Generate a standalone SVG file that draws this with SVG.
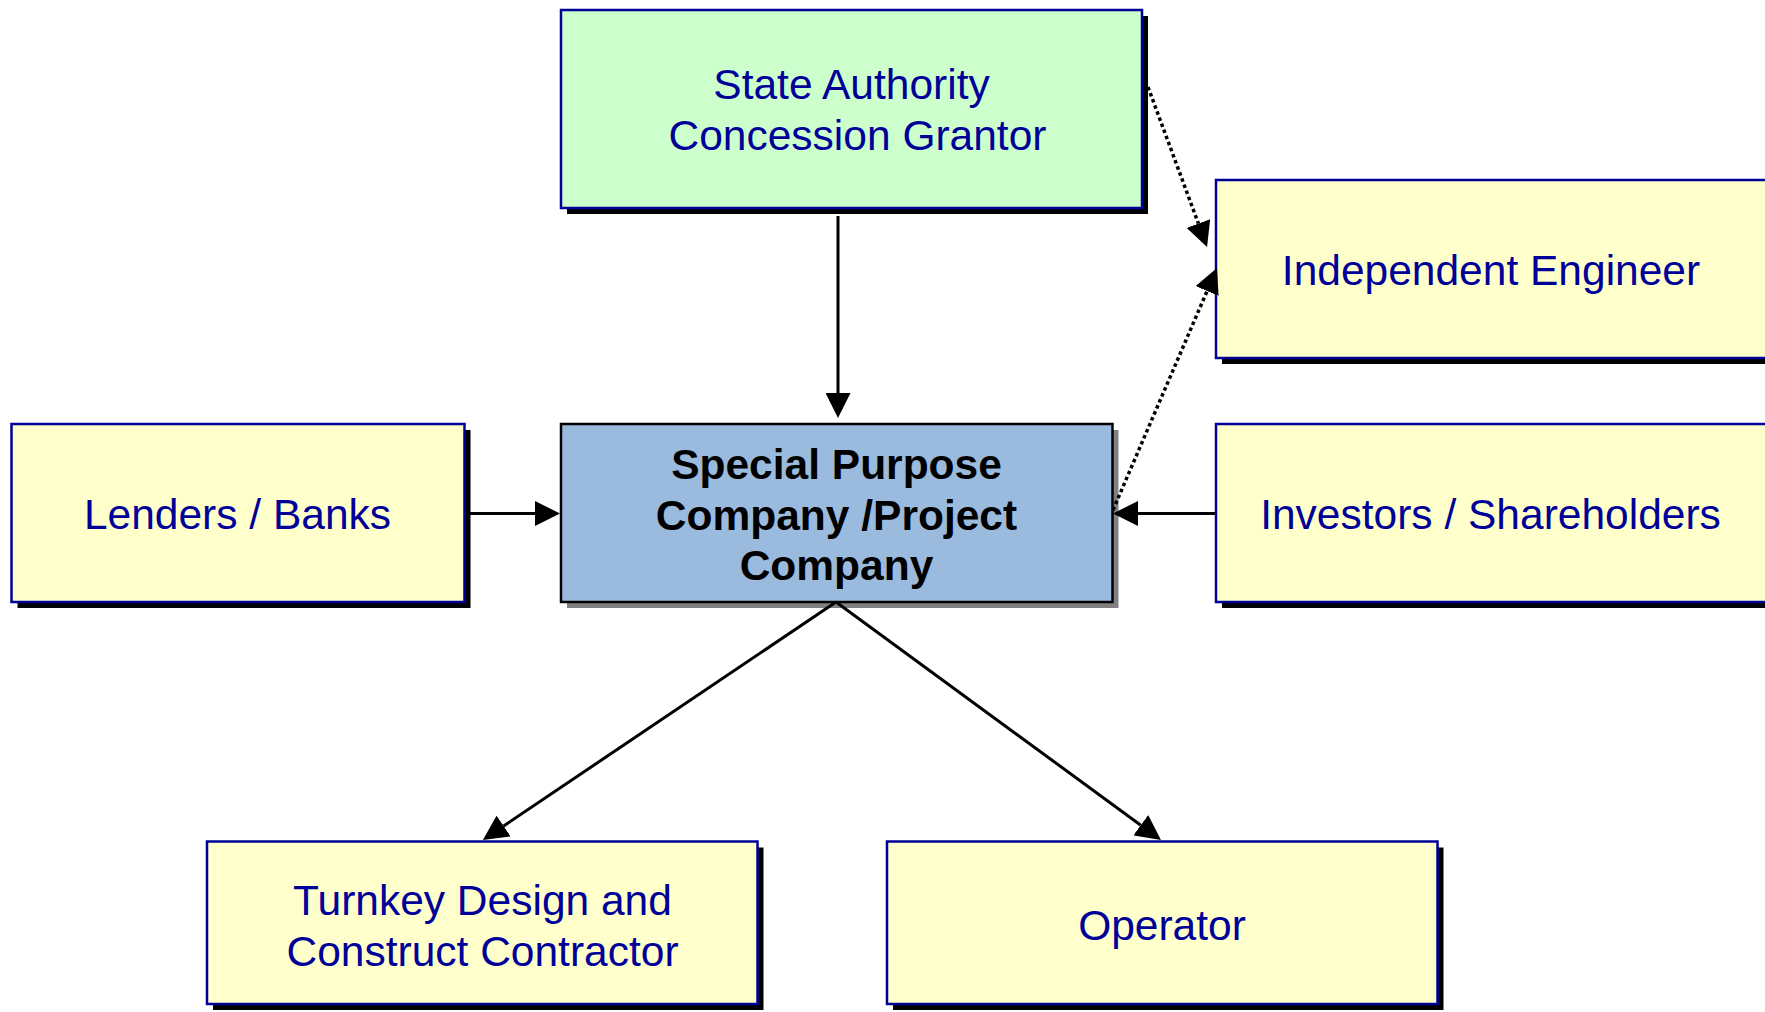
<svg xmlns="http://www.w3.org/2000/svg" width="1765" height="1012" viewBox="0 0 1765 1012">
  <style>
    .box { stroke: #000099; stroke-width: 2.5; }
    .party { fill: #FFFFCC; }
    .grantor { fill: #CCFFCC; }
    .spc { fill: #9BBBDE; stroke: #000000; stroke-width: 2.5; }
    .shadow { fill: #000000; }
    .shadow-grey { fill: #808080; }
    .label { font-family: "Liberation Sans", Arial, sans-serif; font-size: 42.5px; fill: #000099; text-anchor: middle; }
    .label-bold { font-family: "Liberation Sans", Arial, sans-serif; font-size: 42.5px; font-weight: bold; fill: #000000; text-anchor: middle; }
    .link { fill: none; stroke: #000000; stroke-width: 3; }
    .dotted { stroke-width: 3.5; stroke-dasharray: 3.5 3; }
  </style>
  <defs>
    <marker id="arrow" markerUnits="userSpaceOnUse" markerWidth="25" markerHeight="25" refX="0" refY="12.5" orient="auto">
      <path d="M0,0 L25,12.5 L0,25 Z" fill="#000000"/>
    </marker>
  </defs>

  <rect width="1765" height="1012" fill="#FFFFFF"/>

  <g id="state-authority">
    <rect class="shadow" x="567" y="16" width="581" height="198"/>
    <rect class="box grantor" x="561" y="10" width="581" height="198"/>
    <text class="label" x="851.5" y="99">State Authority</text>
    <text class="label" x="857.5" y="149.5">Concession Grantor</text>
  </g>

  <g id="independent-engineer">
    <rect class="shadow" x="1222" y="186" width="552" height="178"/>
    <rect class="box party" x="1216" y="180" width="552" height="178"/>
    <text class="label" x="1491" y="285">Independent Engineer</text>
  </g>

  <g id="lenders">
    <rect class="shadow" x="17.5" y="430" width="453" height="178"/>
    <rect class="box party" x="11.5" y="424" width="453" height="178"/>
    <text class="label" x="237.5" y="529">Lenders / Banks</text>
  </g>

  <g id="project-company">
    <rect class="shadow-grey" x="567" y="430" width="551.5" height="178"/>
    <rect class="spc" x="561" y="424" width="551.5" height="178"/>
    <text class="label-bold" x="836.5" y="479">Special Purpose</text>
    <text class="label-bold" x="836.5" y="529.5">Company /Project</text>
    <text class="label-bold" x="836.5" y="580">Company</text>
  </g>

  <g id="investors">
    <rect class="shadow" x="1222" y="430" width="552" height="178"/>
    <rect class="box party" x="1216" y="424" width="552" height="178"/>
    <text class="label" x="1490.5" y="529">Investors / Shareholders</text>
  </g>

  <g id="contractor">
    <rect class="shadow" x="213" y="847.5" width="550.5" height="162.5"/>
    <rect class="box party" x="207" y="841.5" width="550.5" height="162.5"/>
    <text class="label" x="482.5" y="915">Turnkey Design and</text>
    <text class="label" x="482.5" y="966">Construct Contractor</text>
  </g>

  <g id="operator">
    <rect class="shadow" x="893" y="847.5" width="550.5" height="162.5"/>
    <rect class="box party" x="887" y="841.5" width="550.5" height="162.5"/>
    <text class="label" x="1162" y="940">Operator</text>
  </g>

  <g id="connectors">
    <!-- grantor to project company -->
    <line class="link" x1="838" y1="216" x2="838" y2="393" marker-end="url(#arrow)"/>
    <!-- lenders to project company -->
    <line class="link" x1="467" y1="513.5" x2="535" y2="513.5" marker-end="url(#arrow)"/>
    <!-- investors to project company -->
    <line class="link" x1="1215" y1="513.5" x2="1138" y2="513.5" marker-end="url(#arrow)"/>
    <!-- project company to contractor and operator -->
    <line class="link" x1="836" y1="602" x2="503.6" y2="826" marker-end="url(#arrow)"/>
    <line class="link" x1="836" y1="602" x2="1140.8" y2="825.2" marker-end="url(#arrow)"/>
    <!-- dotted reporting lines to the independent engineer -->
    <line class="link dotted" x1="1148" y1="87" x2="1198.4" y2="223.5" marker-end="url(#arrow)"/>
    <line class="link dotted" x1="1113" y1="510" x2="1207.1" y2="291" marker-end="url(#arrow)"/>
  </g>
</svg>
